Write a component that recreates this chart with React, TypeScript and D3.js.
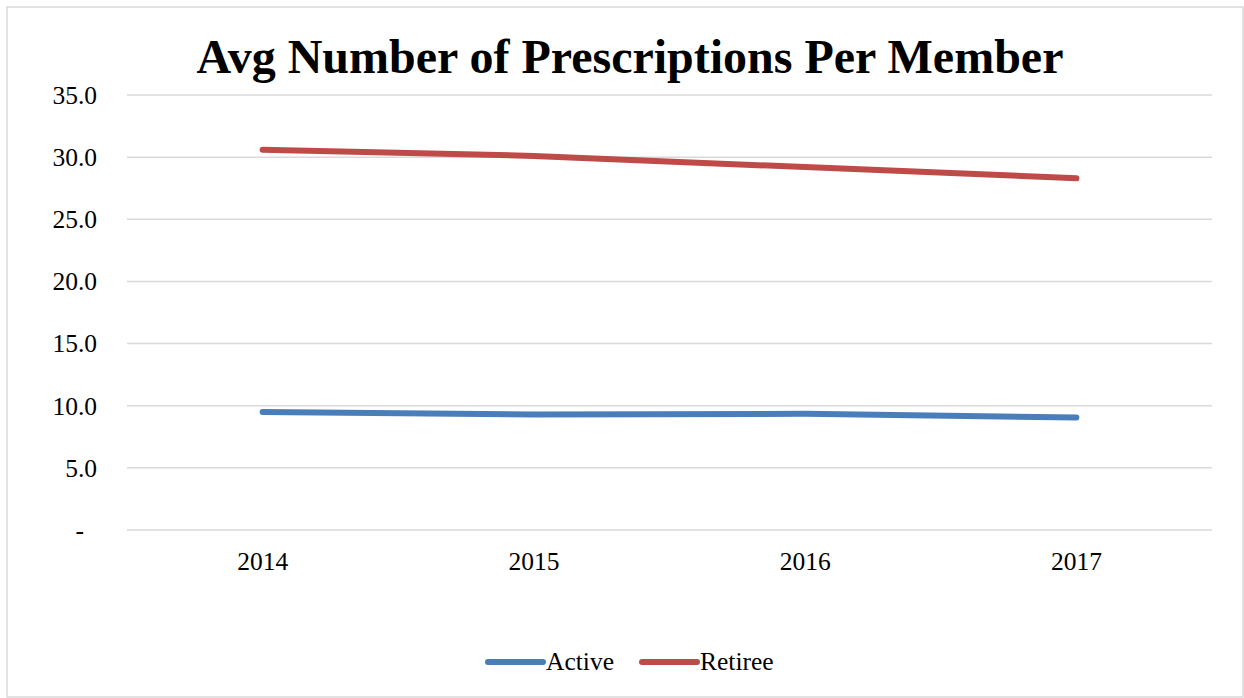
import React from "react";
import * as d3 from "d3";

const years = ["2014", "2015", "2016", "2017"];
const activeValues = [9.5, 9.3, 9.35, 9.05];
const retireeValues = [30.6, 30.1, 29.2, 28.3];
const yTicks = [0, 5, 10, 15, 20, 25, 30, 35];
const seriesNames = ["Active", "Retiree"];
const seriesColors = ["#4A7EBB", "#BE4B48"];

const W = 1244;
const H = 698;
const M = { left: 127, right: 1212, top: 95, bottom: 530 };
const FONT = "Liberation Serif";

export default function App() {
  const x = d3.scalePoint<string>().domain(years).range([M.left, M.right]).padding(0.5);
  const y = d3.scaleLinear().domain([0, 35]).range([M.bottom, M.top]);
  const line = d3
    .line<number>()
    .x((_, i) => x(years[i]) as number)
    .y((d) => y(d));
  const series = [activeValues, retireeValues];
  const fmt = d3.format(".1f");

  return (
    <svg width={W} height={H} style={{ position: "absolute", left: 0, top: 0, background: "#fff" }}>
      <rect x={7} y={7} width={1236} height={690} fill="#fff" stroke="#d9d9d9" strokeWidth={1.5} />
      <text x={630} y={73} textAnchor="middle" fontSize={48} fontWeight="bold" fill="#000" fontFamily={FONT}>
        Avg Number of Prescriptions Per Member
      </text>
      {yTicks.map((t) => (
        <g key={t}>
          <line x1={M.left} x2={M.right} y1={y(t)} y2={y(t)} stroke="#d9d9d9" strokeWidth={1.5} />
          <text
            x={t === 0 ? 84 : 97}
            y={y(t)}
            dy="0.35em"
            textAnchor="end"
            fontSize={25.5}
            fill="#000"
            fontFamily={FONT}
          >
            {t === 0 ? "-" : fmt(t)}
          </text>
        </g>
      ))}
      {years.map((yr) => (
        <text key={yr} x={x(yr)} y={570} textAnchor="middle" fontSize={25.5} fill="#000" fontFamily={FONT}>
          {yr}
        </text>
      ))}
      {series.map((s, i) => (
        <path
          key={seriesNames[i]}
          d={line(s) || ""}
          fill="none"
          stroke={seriesColors[i]}
          strokeWidth={6}
          strokeLinecap="round"
          strokeLinejoin="round"
        />
      ))}
      {seriesNames.map((n, i) => {
        const lx = [488, 642][i];
        return (
          <g key={n}>
            <line x1={lx} x2={lx + 55} y1={662} y2={662} stroke={seriesColors[i]} strokeWidth={6} strokeLinecap="round" />
            <text x={lx + 58} y={670} fontSize={25.5} fill="#000" fontFamily={FONT}>
              {n}
            </text>
          </g>
        );
      })}
    </svg>
  );
}
